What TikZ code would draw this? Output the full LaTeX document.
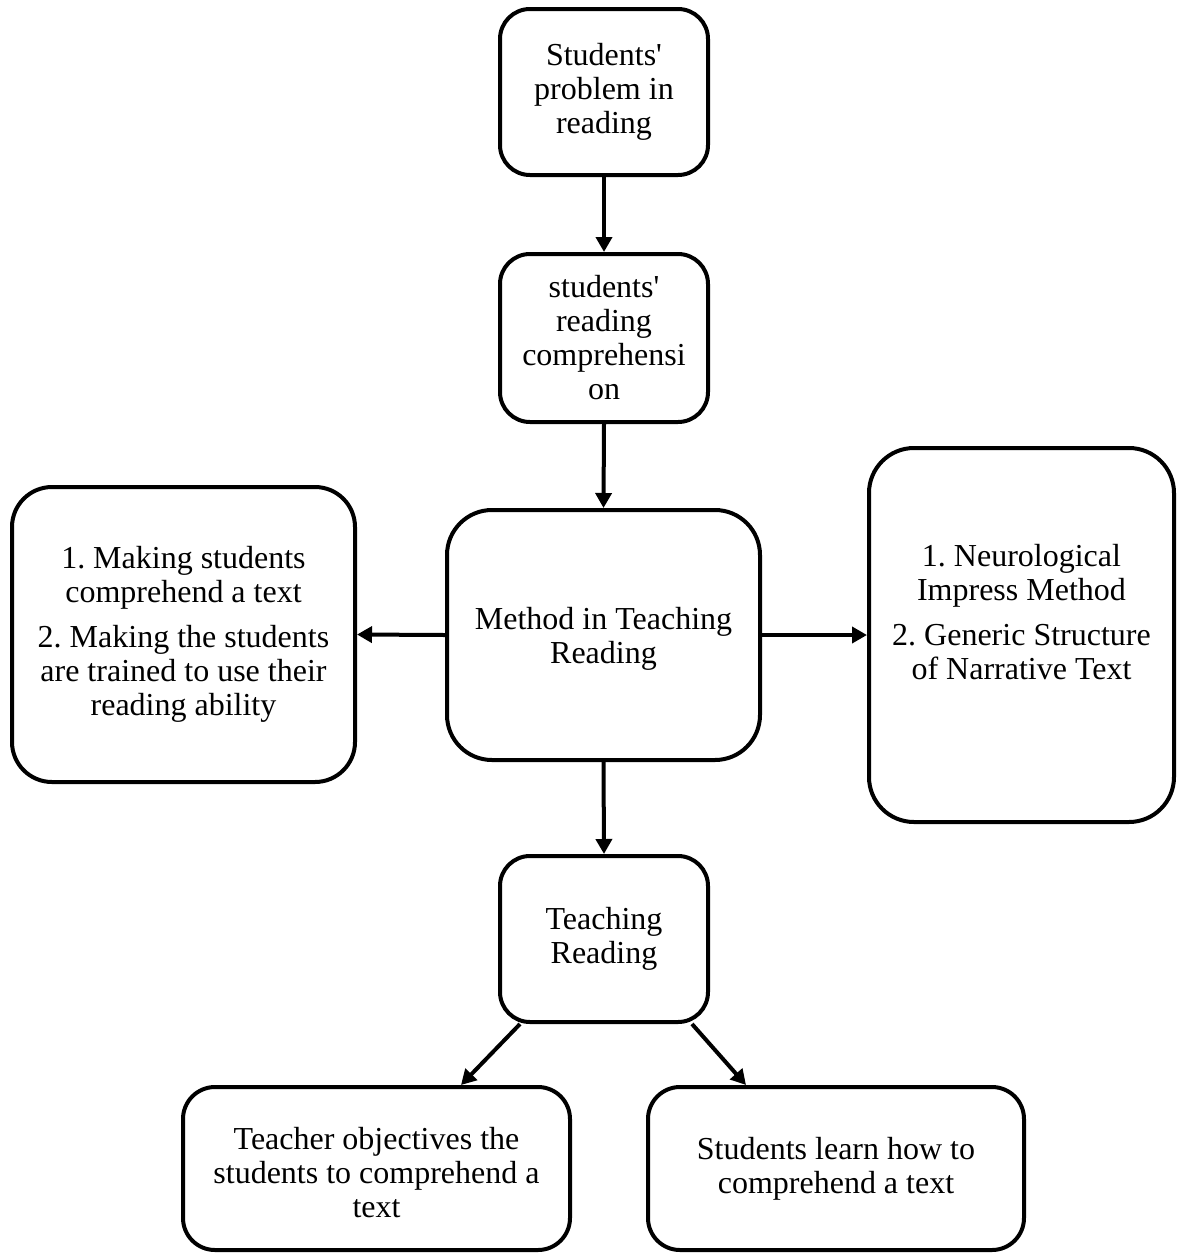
\documentclass[tikz,border=0pt]{standalone}
\usepackage{fontspec}
\setmainfont{Liberation Serif}[Ligatures=TeXOff]
\usetikzlibrary{arrows.meta}
\begin{document}
\frenchspacing
\begin{tikzpicture}[x=1pt,y=-1pt,
  box/.style={draw=black, line width=4pt, fill=white, inner sep=0pt, align=center,
    font=\fontsize{32}{34}\selectfont\frenchspacing},
  txt/.style={inner sep=0pt, align=center, font=\fontsize{32}{34}\selectfont\frenchspacing},
  conn/.style={line width=4pt, -{Triangle[length=15pt,width=16pt]}}]
\useasboundingbox (0,0) rectangle (1177,1254);
\node[box, rounded corners=30pt, minimum width=208pt, minimum height=166pt] (b1) at (604,92)
  {Students'\\problem in\\reading};
\node[box, rounded corners=30pt, minimum width=208pt, minimum height=168pt] (b2) at (604,338)
  {students'\\reading\\comprehensi\\on};
\node[box, rounded corners=45pt, minimum width=313pt, minimum height=250pt] (b3) at (603.5,635) {};
\node[txt] (t3) at (603.5,639) {Method in Teaching\\Reading};
\node[box, rounded corners=40pt, minimum width=343pt, minimum height=295pt] (lb) at (183.5,634.5)
  {1. Making students\\comprehend a text\\[11pt]2. Making the students\\are trained to use their\\reading ability};
\node[box, rounded corners=45pt, minimum width=305pt, minimum height=374pt] (rb) at (1021.5,635) {};
\node[txt] (rt) at (1021.5,612) {1. Neurological\\Impress Method\\[11pt]2. Generic Structure\\of Narrative Text};
\node[box, rounded corners=30pt, minimum width=208pt, minimum height=166pt] (tr) at (604,939)
  {Teaching\\Reading};
\node[box, rounded corners=32pt, minimum width=387pt, minimum height=163pt] (bl) at (376.5,1168.5) {};
\node[txt] (blt) at (376.5,1173) {Teacher objectives the\\students to comprehend a\\text};
\node[box, rounded corners=32pt, minimum width=376pt, minimum height=163pt] (br) at (836,1168.5)
  {Students learn how to\\comprehend a text};
\draw[conn] (b1.south) -- (b2.north);
\draw[conn] (b2.south) -- (b3.north);
\draw[conn] (b3.west) -- (lb.east);
\draw[conn] (b3.east) -- (rb.west);
\draw[conn] (b3.south) -- (tr.north);
\draw[conn] ([xshift=22pt]tr.south west) -- ([xshift=280pt]bl.north west);
\draw[conn] ([xshift=-18pt]tr.south east) -- ([xshift=100pt]br.north west);
\end{tikzpicture}
\end{document}
